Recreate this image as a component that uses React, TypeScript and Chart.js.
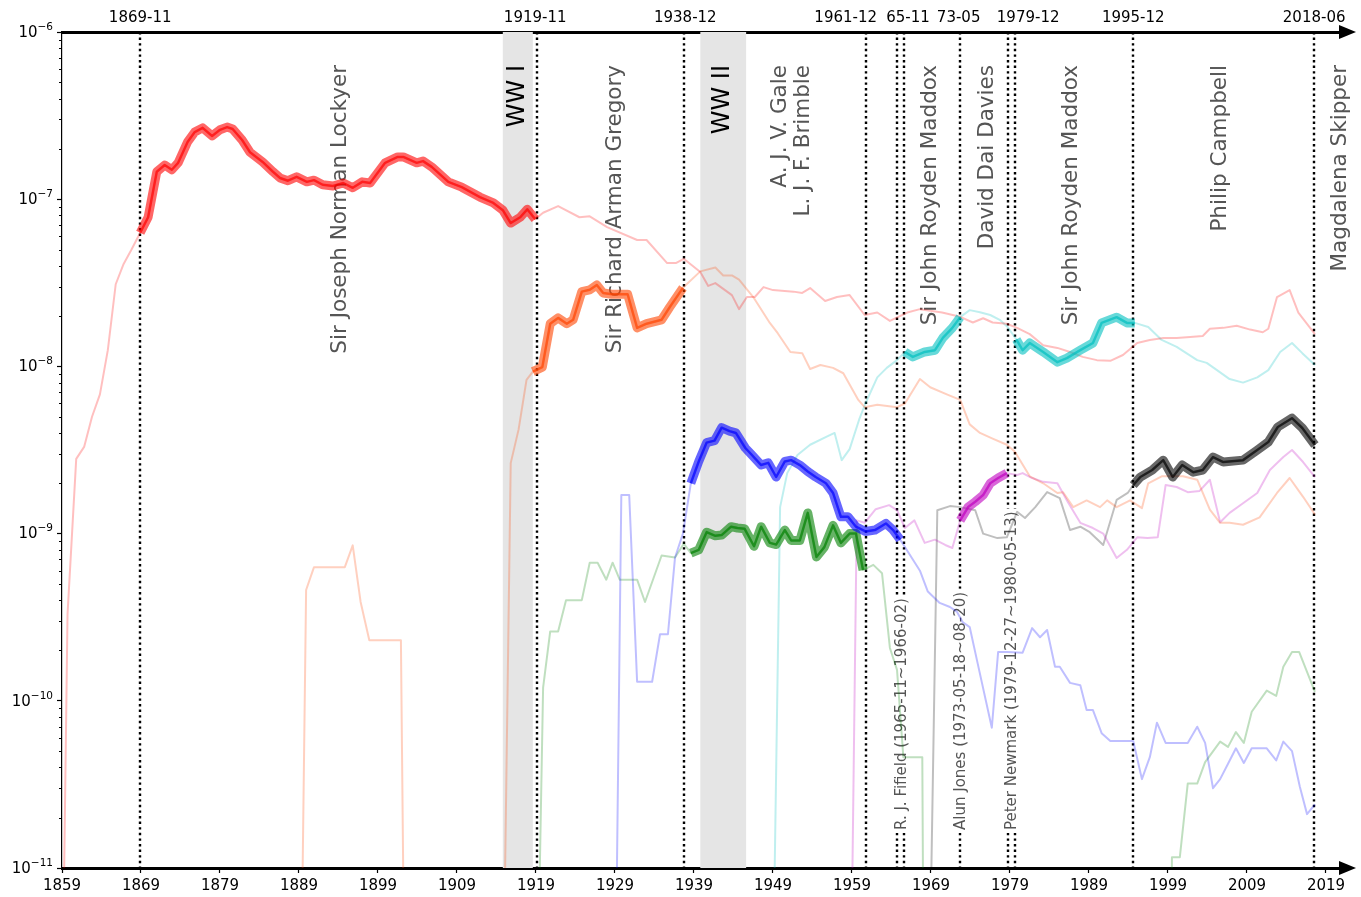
import React, { useEffect, useRef } from 'react';
import { Chart, registerables } from 'chart.js';
Chart.register(...registerables);

// ---------- axis / annotation data ----------
const xMin = 1859;
const xMax = 2021.66;
const xTickYears = [1859, 1869, 1879, 1889, 1899, 1909, 1919, 1929, 1939, 1949, 1959, 1969, 1979, 1989, 1999, 2009, 2019];
const yTickValues = [1e-11, 1e-10, 1e-9, 1e-8, 1e-7, 1e-6];
const yTickBase = '10';
const yTickExponents = ['\u221211', '\u221210', '\u22129', '\u22128', '\u22127', '\u22126'];
const topLabelText = ['1869-11', '1919-11', '1938-12', '1961-12', '65-11', '73-05', '1979-12', '1995-12', '2018-06'];
const topLabelPos = [1868.9, 1918.9, 1937.9, 1958.2, 1966.1, 1972.5, 1981.3, 1994.6, 2017.5];
const editorChangeYears = [1868.9, 1919.1, 1937.7, 1960.8, 1964.7, 1965.6, 1972.7, 1978.7, 1979.6, 1994.6, 2017.5];
const warNames = ['WW I', 'WW II'];
const warStart = [1914.8, 1939.8];
const warEnd = [1918.6, 1945.6];
const editorNames = ['Sir Joseph Norman Lockyer', 'Sir Richard Arman Gregory', 'A. J. V. Gale', 'L. J. F. Brimble', 'Sir John Royden Maddox', 'David Dai Davies', 'Sir John Royden Maddox', 'Philip Campbell', 'Magdalena Skipper'];
const editorNamePos = [1894.2, 1929.0, 1950.0, 1952.8, 1968.9, 1976.2, 1986.8, 2005.7, 2020.8];
const shortEditorNames = ['R. J. Fifield (1965-11~1966-02)', 'Alun Jones (1973-05-18~08-20)', 'Peter Newmark (1979-12-27~1980-05-13)'];
const shortEditorPos = [1965.4, 1972.8, 1979.3];

// ---------- series data [year, value] ----------
const redPoints: [number, number | null][] = [
  [1859.0, 1e-12], [1859.7, 3.3e-10], [1860.8, 2.8e-9], [1861.8, 3.3e-9], [1862.8, 5.0e-9], [1863.8, 6.8e-9],
  [1864.8, 1.25e-8], [1865.8, 3.1e-8], [1866.8, 4.1e-8], [1867.8, 5.0e-8], [1868.9, 6.3e-8], [1869.9, 7.8e-8],
  [1871.0, 1.46e-7], [1872.0, 1.6e-7], [1872.9, 1.5e-7], [1873.7, 1.65e-7], [1874.9, 2.2e-7], [1875.8, 2.52e-7],
  [1876.8, 2.67e-7], [1878.0, 2.39e-7], [1879.0, 2.6e-7], [1879.9, 2.7e-7], [1880.6, 2.63e-7], [1881.8, 2.26e-7],
  [1882.8, 1.91e-7], [1884.4, 1.67e-7], [1885.7, 1.46e-7], [1886.6, 1.34e-7], [1887.6, 1.29e-7], [1888.7, 1.36e-7],
  [1890.0, 1.27e-7], [1890.9, 1.3e-7], [1892.0, 1.22e-7], [1893.3, 1.2e-7], [1894.6, 1.25e-7], [1895.8, 1.17e-7],
  [1897.0, 1.27e-7], [1898.0, 1.25e-7], [1899.9, 1.65e-7], [1901.5, 1.79e-7], [1902.2, 1.79e-7], [1903.9, 1.65e-7],
  [1904.7, 1.69e-7], [1905.8, 1.56e-7], [1907.9, 1.27e-7], [1909.6, 1.18e-7], [1911.9, 1.03e-7], [1913.6, 9.5e-8],
  [1914.8, 8.6e-8], [1915.8, 7.2e-8], [1917.0, 7.8e-8], [1917.9, 8.7e-8], [1918.9, 7.6e-8], [1919.9, 8.3e-8],
  [1921.8, 9.1e-8], [1924.5, 7.8e-8], [1925.8, 7.9e-8], [1928.0, 6.8e-8], [1931.8, 5.7e-8], [1933.0, 5.7e-8],
  [1935.6, 4.15e-8], [1936.7, 4.15e-8], [1937.7, 4.4e-8], [1939.8, 3.67e-8], [1940.8, 3.03e-8], [1941.7, 3.15e-8],
  [1943.8, 2.67e-8], [1944.7, 2.2e-8], [1945.7, 2.6e-8], [1946.7, 2.6e-8], [1947.8, 2.98e-8], [1949.0, 2.86e-8],
  [1951.6, 2.8e-8], [1952.7, 2.75e-8], [1953.7, 2.94e-8], [1955.6, 2.46e-8], [1957.1, 2.6e-8], [1958.7, 2.67e-8],
  [1960.6, 2.03e-8], [1962.2, 2.1e-8], [1963.8, 1.87e-8], [1966.0, 2.1e-8], [1967.6, 2.2e-8], [1968.9, 2.15e-8],
  [1970.4, 2.1e-8], [1972.7, 1.98e-8], [1974.3, 1.83e-8], [1975.6, 1.94e-8], [1976.8, 1.83e-8], [1978.6, 1.8e-8],
  [1979.9, 1.7e-8], [1981.5, 1.56e-8], [1983.2, 1.34e-8], [1985.0, 1.29e-8], [1986.6, 1.22e-8], [1988.2, 1.14e-8],
  [1990.0, 1.09e-8], [1991.7, 1.08e-8], [1993.3, 1.17e-8], [1995.1, 1.38e-8], [1996.7, 1.44e-8], [1998.4, 1.48e-8],
  [2000.1, 1.48e-8], [2001.8, 1.5e-8], [2003.4, 1.52e-8], [2004.3, 1.68e-8], [2006.0, 1.7e-8], [2007.7, 1.75e-8],
  [2009.4, 1.66e-8], [2011.0, 1.6e-8], [2011.7, 1.68e-8], [2012.8, 2.6e-8], [2014.4, 2.86e-8], [2015.5, 2.1e-8],
  [2017.6, 1.56e-8],
];

const orangePoints: [number, number | null][] = [
  [1889.2, 1e-12], [1889.9, 4.6e-10], [1890.9, 6.3e-10], [1894.8, 6.3e-10], [1895.8, 8.5e-10], [1896.8, 3.9e-10],
  [1897.9, 2.3e-10], [1901.9, 2.3e-10], [1902.4, 1e-12], [1908.0, null], [1914.8, 1e-12], [1915.8, 2.64e-9],
  [1916.8, 4.2e-9], [1917.8, 8.3e-9], [1918.6, 9.3e-9], [1919.8, 9.9e-9], [1920.8, 1.8e-8], [1921.8, 1.95e-8],
  [1922.9, 1.8e-8], [1923.7, 1.9e-8], [1924.8, 2.8e-8], [1925.8, 2.87e-8], [1926.7, 3.07e-8], [1927.5, 2.75e-8],
  [1928.6, 2.7e-8], [1930.6, 2.7e-8], [1931.8, 1.7e-8], [1933.0, 1.8e-8], [1934.9, 1.9e-8], [1935.9, 2.25e-8],
  [1937.6, 2.95e-8], [1939.8, 3.7e-8], [1941.7, 3.9e-8], [1942.7, 3.5e-8], [1943.8, 3.5e-8], [1944.7, 3.3e-8],
  [1946.5, 2.6e-8], [1948.6, 1.82e-8], [1949.6, 1.58e-8], [1951.2, 1.22e-8], [1952.7, 1.2e-8], [1953.7, 9.65e-9],
  [1955.0, 1.02e-8], [1956.6, 9.8e-9], [1957.9, 9.1e-9], [1959.8, 6.3e-9], [1960.6, 5.7e-9], [1962.2, 5.9e-9],
  [1964.7, 5.7e-9], [1965.7, 6.0e-9], [1967.6, 8.4e-9], [1968.9, 7.5e-9], [1971.0, 6.8e-9], [1972.7, 6.3e-9],
  [1973.9, 4.5e-9], [1975.2, 4.0e-9], [1976.8, 3.7e-9], [1978.6, 3.4e-9], [1979.6, 3.1e-9], [1981.5, 2.2e-9],
  [1983.2, 2.0e-9], [1985.0, 1.75e-9], [1985.7, 1.77e-9], [1987.0, 1.44e-9], [1988.7, 1.58e-9], [1990.4, 1.44e-9],
  [1991.3, 1.58e-9], [1992.5, 1.44e-9], [1994.2, 1.58e-9], [1995.7, 1.42e-9], [1996.5, 2.0e-9], [1998.2, 2.2e-9],
  [2000.9, 2.2e-9], [2002.7, 2.1e-9], [2004.3, 1.39e-9], [2005.6, 1.16e-9], [2006.8, 1.16e-9], [2008.5, 1.13e-9],
  [2010.6, 1.25e-9], [2012.8, 1.75e-9], [2014.4, 2.15e-9], [2016.1, 1.66e-9], [2017.6, 1.3e-9],
];

const bluePoints: [number, number | null][] = [
  [1929.0, 1e-12], [1929.8, 1.7e-9], [1930.8, 1.7e-9], [1931.8, 1.3e-10], [1933.7, 1.3e-10], [1934.7, 2.5e-10],
  [1935.7, 2.5e-10], [1936.6, 7.2e-10], [1937.6, 1.0e-9], [1938.6, 2.0e-9], [1939.6, 2.7e-9], [1940.6, 3.5e-9],
  [1941.6, 3.6e-9], [1942.5, 4.3e-9], [1943.5, 4.1e-9], [1944.3, 4.0e-9], [1945.5, 3.25e-9], [1946.2, 3.0e-9],
  [1947.5, 2.57e-9], [1948.4, 2.65e-9], [1949.4, 2.18e-9], [1950.5, 2.7e-9], [1951.3, 2.75e-9], [1952.4, 2.57e-9],
  [1953.4, 2.35e-9], [1954.4, 2.18e-9], [1955.7, 2.0e-9], [1956.6, 1.75e-9], [1957.6, 1.26e-9], [1958.5, 1.26e-9],
  [1959.5, 1.1e-9], [1960.7, 1.03e-9], [1961.9, 1.05e-9], [1963.3, 1.15e-9], [1964.2, 1.05e-9], [1965.1, 9.2e-10],
  [1966.7, 7.0e-10], [1967.6, 6.0e-10], [1968.6, 4.5e-10], [1970.1, 3.85e-10], [1971.4, 3.64e-10], [1972.3, 3.4e-10],
  [1973.0, 2.96e-10], [1973.9, 2.76e-10], [1974.9, 1.68e-10], [1976.7, 6.9e-11], [1977.5, 1.96e-10], [1978.7, 1.96e-10],
  [1980.6, 1.94e-10], [1981.8, 2.72e-10], [1982.8, 2.4e-10], [1983.7, 2.65e-10], [1984.7, 1.6e-10], [1985.3, 1.6e-10],
  [1986.6, 1.28e-10], [1987.9, 1.24e-10], [1988.7, 8.8e-11], [1989.5, 8.8e-11], [1990.6, 6.4e-11], [1991.7, 5.75e-11],
  [1994.6, 5.75e-11], [1995.7, 3.4e-11], [1996.7, 4.6e-11], [1997.6, 7.4e-11], [1998.7, 5.6e-11], [2001.5, 5.6e-11],
  [2002.7, 7.0e-11], [2003.7, 5.6e-11], [2004.7, 3.0e-11], [2005.6, 3.4e-11], [2006.6, 4.2e-11], [2007.6, 5.2e-11],
  [2008.6, 4.25e-11], [2009.6, 5.2e-11], [2011.5, 5.2e-11], [2012.7, 4.4e-11], [2013.6, 5.7e-11], [2014.7, 5.0e-11],
  [2015.7, 3.05e-11], [2016.6, 2.1e-11], [2017.6, 2.4e-11],
];

const greenPoints: [number, number | null][] = [
  [1919.1, 1e-12], [1919.9, 1.2e-10], [1920.8, 2.6e-10], [1921.8, 2.6e-10], [1922.8, 4.0e-10], [1924.8, 4.0e-10],
  [1925.8, 6.7e-10], [1926.8, 6.7e-10], [1927.9, 5.3e-10], [1928.7, 6.7e-10], [1929.6, 5.3e-10], [1931.8, 5.3e-10],
  [1932.8, 3.9e-10], [1934.9, 7.4e-10], [1936.6, 7.2e-10], [1937.7, 8.7e-10], [1938.6, 7.65e-10], [1939.6, 8.0e-10],
  [1940.6, 1.02e-9], [1941.7, 9.7e-10], [1942.5, 9.8e-10], [1943.7, 1.1e-9], [1944.5, 1.08e-9], [1945.4, 1.07e-9],
  [1946.6, 8.4e-10], [1947.5, 1.1e-9], [1948.6, 8.8e-10], [1949.4, 8.6e-10], [1950.5, 1.05e-9], [1951.3, 9.1e-10],
  [1952.4, 9.1e-10], [1953.4, 1.33e-9], [1954.5, 7.25e-10], [1955.5, 8.3e-10], [1956.6, 1.12e-9], [1957.6, 8.8e-10],
  [1958.7, 1.0e-9], [1959.5, 1.0e-9], [1960.4, 6.05e-10], [1961.7, 6.5e-10], [1962.8, 5.8e-10], [1963.8, 2.07e-10],
  [1964.7, 1.53e-10], [1965.5, 4.6e-11], [1967.9, 4.6e-11], [1968.1, 1e-12], [1985.0, null], [1999.3, 1e-12],
  [1999.5, 1.16e-11], [2000.5, 1.16e-11], [2001.5, 3.2e-11], [2002.7, 3.2e-11], [2003.7, 4.3e-11], [2005.6, 5.7e-11],
  [2006.6, 5.3e-11], [2007.6, 6.5e-11], [2008.6, 5.6e-11], [2009.6, 8.6e-11], [2011.5, 1.15e-10], [2012.7, 1.07e-10],
  [2013.6, 1.6e-10], [2014.7, 1.96e-10], [2015.6, 1.96e-10], [2017.6, 1.13e-10],
];

const cyanPoints: [number, number | null][] = [
  [1948.9, 1e-12], [1949.9, 1.44e-9], [1950.8, 2.3e-9], [1952.1, 2.95e-9], [1953.7, 3.4e-9], [1955.8, 3.8e-9],
  [1956.8, 4.0e-9], [1957.7, 2.75e-9], [1958.7, 3.2e-9], [1959.9, 4.8e-9], [1960.7, 6.0e-9], [1962.2, 8.6e-9],
  [1963.4, 9.8e-9], [1964.7, 1.09e-8], [1965.7, 1.22e-8], [1966.7, 1.14e-8], [1968.2, 1.22e-8], [1969.5, 1.25e-8],
  [1970.5, 1.48e-8], [1971.7, 1.7e-8], [1972.7, 1.97e-8], [1973.9, 2.17e-8], [1975.2, 2.11e-8], [1976.5, 2.03e-8],
  [1977.7, 1.9e-8], [1978.7, 1.72e-8], [1979.8, 1.45e-8], [1980.6, 1.25e-8], [1981.5, 1.38e-8], [1983.2, 1.22e-8],
  [1985.0, 1.06e-8], [1986.2, 1.12e-8], [1987.9, 1.25e-8], [1989.5, 1.38e-8], [1990.6, 1.82e-8], [1992.5, 1.97e-8],
  [1993.8, 1.82e-8], [1994.8, 1.82e-8], [1996.5, 1.72e-8], [1998.2, 1.44e-8], [2000.1, 1.31e-8], [2002.7, 1.09e-8],
  [2003.9, 1.05e-8], [2005.2, 9.5e-9], [2006.8, 8.4e-9], [2008.5, 8.0e-9], [2010.3, 8.6e-9], [2011.7, 9.5e-9],
  [2013.2, 1.22e-8], [2014.7, 1.38e-8], [2016.0, 1.2e-8], [2017.6, 1.02e-8],
];

const magentaPoints: [number, number | null][] = [
  [1958.8, 1e-12], [1959.6, 1.2e-9], [1960.6, 1.16e-9], [1962.0, 1.4e-9], [1963.7, 1.48e-9], [1964.7, 1.38e-9],
  [1965.7, 1.08e-9], [1966.9, 1.2e-9], [1968.2, 8.8e-10], [1969.5, 9.2e-10], [1970.8, 8.55e-10], [1971.7, 8.2e-10],
  [1972.7, 1.2e-9], [1973.7, 1.44e-9], [1974.6, 1.55e-9], [1975.6, 1.7e-9], [1976.5, 2.0e-9], [1977.5, 2.15e-9],
  [1978.6, 2.3e-9], [1979.9, 2.24e-9], [1980.6, 2.3e-9], [1981.8, 2.15e-9], [1983.2, 2.04e-9], [1985.0, 2.0e-9],
  [1986.3, 1.55e-9], [1987.9, 1.16e-9], [1989.5, 1.08e-9], [1990.8, 1.0e-9], [1992.5, 7.15e-10], [1993.8, 8.0e-10],
  [1995.1, 9.5e-10], [1996.4, 9.4e-10], [1997.7, 9.5e-10], [1998.7, 1.95e-9], [2000.1, 1.9e-9], [2001.5, 1.77e-9],
  [2003.0, 1.8e-9], [2004.3, 2.1e-9], [2005.6, 1.17e-9], [2006.8, 1.33e-9], [2008.5, 1.52e-9], [2010.3, 1.75e-9],
  [2011.9, 2.4e-9], [2013.6, 2.87e-9], [2014.7, 3.16e-9], [2016.1, 2.68e-9], [2017.6, 2.18e-9],
];

const blackPoints: [number, number | null][] = [
  [1968.7, 1e-12], [1969.8, 1.38e-9], [1971.4, 1.46e-9], [1972.7, 1.44e-9], [1974.6, 1.38e-9], [1975.6, 1.0e-9],
  [1977.4, 9.4e-10], [1978.6, 9.5e-10], [1979.9, 1.35e-9], [1980.9, 1.24e-9], [1982.2, 1.44e-9], [1983.7, 1.77e-9],
  [1985.3, 1.63e-9], [1986.6, 1.05e-9], [1987.9, 1.1e-9], [1989.1, 1.02e-9], [1990.8, 8.55e-10], [1992.5, 1.59e-9],
  [1993.9, 1.75e-9], [1994.6, 1.95e-9], [1995.5, 2.18e-9], [1997.0, 2.4e-9], [1998.4, 2.75e-9], [1999.6, 2.18e-9],
  [2000.8, 2.57e-9], [2002.2, 2.33e-9], [2003.4, 2.4e-9], [2004.7, 2.87e-9], [2006.0, 2.68e-9], [2008.5, 2.75e-9],
  [2010.3, 3.16e-9], [2011.7, 3.53e-9], [2012.9, 4.34e-9], [2014.7, 4.9e-9], [2016.0, 4.28e-9], [2017.6, 3.39e-9],
];

// tenure ranges in which each series is drawn thick
const redTenures = [[1868.8, 1919.0]];
const orangeTenures = [[1918.5, 1937.7]];
const blueTenures = [[1938.5, 1965.2]];
const greenTenures = [[1938.5, 1960.5]];
const cyanTenures = [[1965.6, 1972.8], [1979.7, 1995.0]];
const magentaTenures = [[1972.6, 1978.7]];
const blackTenures = [[1994.5, 2018.0]];

const seriesList = [
  { pts: redPoints, rgb: '255,0,0', tenures: redTenures },
  { pts: orangePoints, rgb: '255,69,0', tenures: orangeTenures },
  { pts: bluePoints, rgb: '0,0,255', tenures: blueTenures },
  { pts: greenPoints, rgb: '0,128,0', tenures: greenTenures },
  { pts: cyanPoints, rgb: '0,191,191', tenures: cyanTenures },
  { pts: magentaPoints, rgb: '191,0,191', tenures: magentaTenures },
  { pts: blackPoints, rgb: '0,0,0', tenures: blackTenures },
];

const FONT = "'DejaVu Sans', sans-serif";

function drawRotated(ctx: CanvasRenderingContext2D, text: string, x: number, y: number, align: CanvasTextAlign, size: number, color: string, box = false) {
  ctx.save();
  ctx.translate(x, y);
  ctx.rotate(-Math.PI / 2);
  ctx.font = `${size}px ${FONT}`;
  ctx.textAlign = align;
  ctx.textBaseline = 'middle';
  if (box) {
    const w = ctx.measureText(text).width;
    const x0 = align === 'left' ? -3 : -w - 3;
    ctx.fillStyle = '#fff';
    ctx.fillRect(x0, -size * 0.6, w + 6, size * 1.2);
  }
  ctx.fillStyle = color;
  ctx.fillText(text, 0, 0);
  ctx.restore();
}

const decorPlugin = {
  id: 'decor',
  beforeDatasetsDraw(chart: any) {
    const { ctx, chartArea } = chart;
    const xs = chart.scales.x;
    ctx.save();
    // war bands
    ctx.fillStyle = '#e5e5e5';
    warStart.forEach((s, i) => {
      const a = xs.getPixelForValue(s);
      const b = xs.getPixelForValue(warEnd[i]);
      ctx.fillRect(a, chartArea.top, b - a, chartArea.bottom - chartArea.top);
    });
    // editor change lines
    ctx.strokeStyle = '#000';
    ctx.lineWidth = 2.4;
    ctx.setLineDash([2.4, 3.2]);
    editorChangeYears.forEach((yr) => {
      const px = Math.round(xs.getPixelForValue(yr));
      ctx.beginPath();
      ctx.moveTo(px, chartArea.top);
      ctx.lineTo(px, chartArea.bottom);
      ctx.stroke();
    });
    ctx.restore();
    // labels (under data lines)
    warNames.forEach((n, i) => {
      drawRotated(ctx, n, xs.getPixelForValue((warStart[i] + warEnd[i]) / 2), 65, 'right', 24, '#000');
    });
    editorNames.forEach((n, i) => {
      drawRotated(ctx, n, xs.getPixelForValue(editorNamePos[i]), 65, 'right', 21.5, '#555');
    });
    shortEditorNames.forEach((n, i) => {
      drawRotated(ctx, n, xs.getPixelForValue(shortEditorPos[i]), 830, 'left', 15, '#555', true);
    });
  },
  afterDraw(chart: any) {
    const { ctx, chartArea } = chart;
    const ys = chart.scales.y;
    ctx.save();
    // minor log ticks
    ctx.strokeStyle = '#000';
    ctx.lineWidth = 1;
    for (let e = -11; e < -6; e++) {
      for (let m = 2; m <= 9; m++) {
        const py = Math.round(ys.getPixelForValue(m * Math.pow(10, e))) + 0.5;
        ctx.beginPath();
        ctx.moveTo(chartArea.left - 3, py);
        ctx.lineTo(chartArea.left, py);
        ctx.stroke();
      }
    }
    // y tick labels as 10^n
    ctx.fillStyle = '#000';
    ctx.textBaseline = 'middle';
    ctx.textAlign = 'right';
    yTickValues.forEach((v, i) => {
      const py = ys.getPixelForValue(v);
      const right = chartArea.left - 9;
      ctx.font = `10.5px ${FONT}`;
      const ew = ctx.measureText(yTickExponents[i]).width;
      ctx.fillText(yTickExponents[i], right, py - 5);
      ctx.font = `15px ${FONT}`;
      ctx.fillText(yTickBase, right - ew, py + 1);
    });
    // arrow heads
    [chartArea.top, chartArea.bottom].forEach((yy: number) => {
      ctx.beginPath();
      ctx.moveTo(chartArea.right - 8, yy - 7);
      ctx.lineTo(chartArea.right + 9, yy);
      ctx.lineTo(chartArea.right - 8, yy + 7);
      ctx.closePath();
      ctx.fill();
    });
    ctx.restore();
  },
};

export default function App() {
  const ref = useRef<HTMLCanvasElement>(null);
  useEffect(() => {
    document.body.style.margin = '0';
    const datasets: any[] = [];
    seriesList.forEach((s) => {
      const pts = s.pts.map(([x, y]) => ({ x, y }));
      datasets.push({
        data: pts, borderColor: `rgba(${s.rgb},0.25)`, borderWidth: 2, order: 3,
        pointRadius: 0, tension: 0, spanGaps: false, borderJoinStyle: 'round',
      });
      s.tenures.forEach(([a, b]) => {
        const seg = pts.filter((p) => p.x >= a && p.x <= b);
        datasets.push({
          data: seg, borderColor: `rgba(${s.rgb},0.6)`, borderWidth: 9, order: 2,
          pointRadius: 0, tension: 0, borderJoinStyle: 'round',
        });
        datasets.push({
          data: seg, borderColor: `rgba(${s.rgb},0.6)`, borderWidth: 2.5, order: 1,
          pointRadius: 0, tension: 0, borderJoinStyle: 'round',
        });
      });
    });

    Chart.defaults.font.family = FONT;
    Chart.defaults.color = '#000';
    const chart = new Chart(ref.current!, {
      type: 'line',
      data: { datasets },
      options: {
        animation: false,
        responsive: true,
        maintainAspectRatio: false,
        events: [],
        layout: { padding: { left: 0, right: 14, top: 0, bottom: 0 } },
        plugins: { legend: { display: false }, tooltip: { enabled: false } },
        scales: {
          x: {
            type: 'linear', position: 'bottom', min: xMin, max: xMax, z: 1,
            afterBuildTicks: (sc: any) => { sc.ticks = xTickYears.map((v) => ({ value: v })); },
            afterFit: (sc: any) => { sc.height = 29; },
            ticks: { autoSkip: false, maxRotation: 0, minRotation: 0, padding: 4, font: { size: 15 }, color: '#000',
              callback: (v: any) => String(v) },
            grid: { display: true, drawOnChartArea: false, drawTicks: true, tickLength: 5, color: '#000', tickWidth: 1.2 },
            border: { display: true, color: '#000', width: 3 },
          },
          x2: {
            type: 'linear', position: 'top', min: xMin, max: xMax, z: 1,
            afterBuildTicks: (sc: any) => { sc.ticks = topLabelPos.map((v) => ({ value: v })); },
            afterFit: (sc: any) => { sc.height = 32; },
            ticks: { autoSkip: false, maxRotation: 0, minRotation: 0, padding: 5, font: { size: 15 }, color: '#000',
              callback: (_v: any, i: number) => topLabelText[i] },
            grid: { display: false, drawTicks: false },
            border: { display: true, color: '#000', width: 3 },
          },
          y: {
            type: 'logarithmic', position: 'left', min: 1e-11, max: 1e-6, z: 1,
            afterBuildTicks: (sc: any) => { sc.ticks = yTickValues.map((v) => ({ value: v })); },
            afterFit: (sc: any) => { sc.width = 62; },
            ticks: { autoSkip: false, padding: 4, font: { size: 15 }, color: '#000',
              callback: () => '' },
            grid: { display: true, drawOnChartArea: false, drawTicks: true, tickLength: 5, color: '#000', tickWidth: 1.2 },
            border: { display: true, color: '#000', width: 1.2 },
          },
        },
      },
      plugins: [decorPlugin],
    });
    return () => chart.destroy();
  }, []);
  return (
    <div style={{ position: 'fixed', left: 0, top: 0, width: 1361, height: 897 }}>
      <canvas ref={ref} />
    </div>
  );
}
